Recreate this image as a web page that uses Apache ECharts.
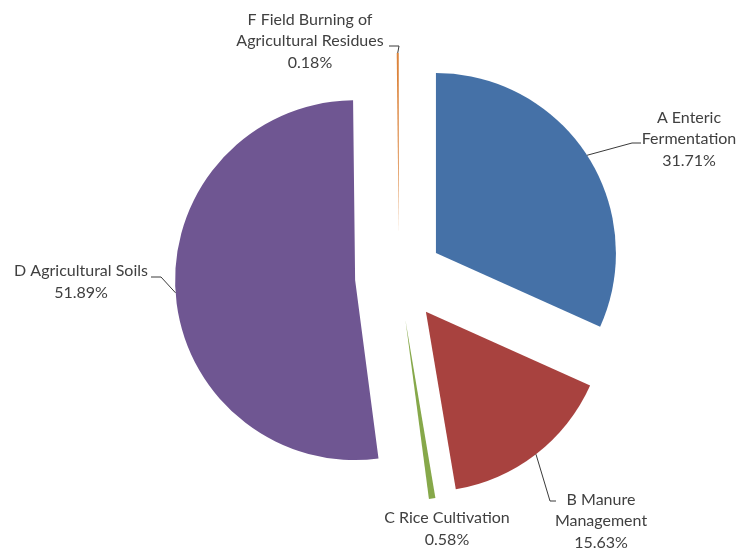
<!DOCTYPE html>
<html>
<head>
<meta charset="utf-8">
<script src="https://cdn.jsdelivr.net/npm/echarts@6/dist/echarts.min.js"></script>
<style>
  html, body { margin: 0; padding: 0; background: #fff; }
  #chart { width: 738px; height: 551px; }
</style>
</head>
<body>
<div id="chart"></div>
<script>
// Agricultural emission sources, share of total (%)
const categories = [
  'A Enteric\nFermentation',
  'B Manure\nManagement',
  'C Rice Cultivation',
  'D Agricultural Soils',
  'F Field Burning of\nAgricultural Residues'
];
const shares = [31.71, 15.63, 0.58, 51.89, 0.18];
const colors = ['#4571A7', '#A8423F', '#86A84A', '#6F5692', '#DC843C'];

// pie geometry
const PIE_CENTER = [399, 277];
const PIE_RADIUS = 180;
const EXPLODE = 44;

// label block centres and leader-line elbow / end points (null = no leader)
const labelSpots = [[689, 139], [601, 521], [447, 529], [81, 282], [310, 41]];
const leaderBends = [
  [[632, 143], [641, 143]],
  [[550, 501], [556, 501]],
  null,
  [[161, 277], [151, 277]],
  [[399, 46], [389, 46]]
];

const FONT = '16px Lato, "Open Sans", sans-serif';
const TEXT_COLOR = '#404040';

const chart = echarts.init(document.getElementById('chart'));

// outer-arc midpoint of each exploded slice, from the same angles the pie uses
const total = shares.reduce((a, b) => a + b, 0);
let acc = 0;
const anchors = shares.map(v => {
  const mid = (acc + v / 2) / total * Math.PI * 2;
  acc += v;
  const sx = Math.sin(mid), sy = -Math.cos(mid);
  return [
    PIE_CENTER[0] + (EXPLODE + PIE_RADIUS) * sx,
    PIE_CENTER[1] + (EXPLODE + PIE_RADIUS) * sy
  ];
});

const labelText = (i) => categories[i] + '\n' + shares[i].toFixed(2) + '%';

const graphics = [];
shares.forEach((v, i) => {
  if (leaderBends[i]) {
    graphics.push({
      type: 'polyline',
      silent: true,
      z: 10,
      shape: { points: [anchors[i], leaderBends[i][0], leaderBends[i][1]] },
      style: { stroke: '#3a3a3a', lineWidth: 1, fill: null }
    });
  }
  graphics.push({
    type: 'text',
    silent: true,
    z: 10,
    x: labelSpots[i][0],
    y: labelSpots[i][1],
    style: {
      text: labelText(i),
      font: FONT,
      fill: TEXT_COLOR,
      align: 'center',
      verticalAlign: 'middle',
      lineHeight: 21.5
    }
  });
});

chart.setOption({
  animation: false,
  backgroundColor: '#ffffff',
  graphic: graphics,
  series: [{
    type: 'pie',
    center: PIE_CENTER,
    radius: PIE_RADIUS,
    startAngle: 90,
    clockwise: true,
    selectedMode: 'multiple',
    selectedOffset: EXPLODE,
    emphasis: { disabled: true },
    label: { show: false },
    labelLine: { show: false },
    data: categories.map((name, i) => ({
      name: name,
      value: shares[i],
      selected: true,
      itemStyle: { color: colors[i] }
    }))
  }]
});
</script>
</body>
</html>
